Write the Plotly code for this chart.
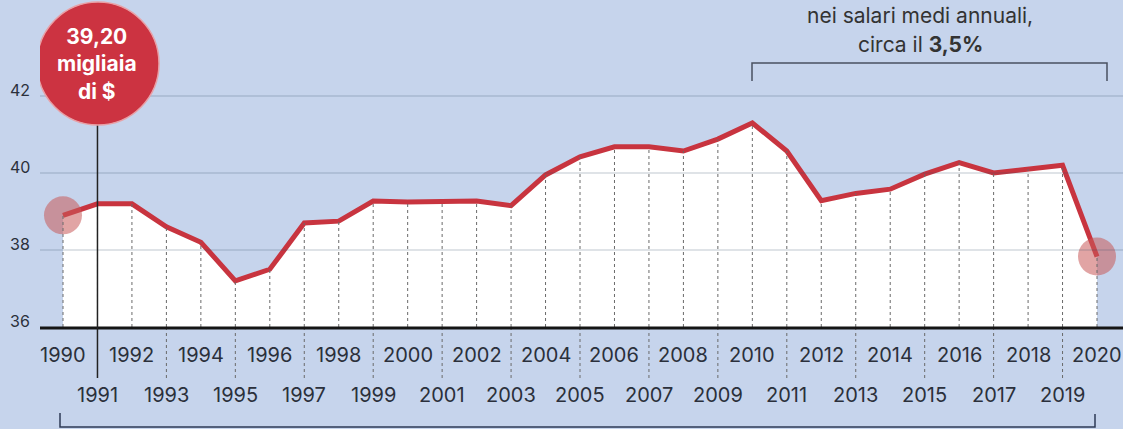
import plotly.graph_objects as go

years = list(range(1990, 2021))
wages = [38.9, 39.2, 39.2, 38.6, 38.2, 37.2, 37.5, 38.7, 38.75, 39.27, 39.25,
         39.27, 39.27, 39.15, 39.95, 40.42, 40.68, 40.68, 40.57, 40.88, 41.3,
         40.57, 39.28, 39.47, 39.58, 39.97, 40.27, 40.0, 40.1, 40.2, 37.83]
y_ticks = [36, 38, 40, 42]
bubble_lines = ["39,20", "migliaia", "di $"]
note_lines = ["nei salari medi annuali,", "circa il <b>3,5%</b>"]

W, H = 1123, 429
L, R, T, B = 40, 0, 0, 102
PW, PH = W - L - R, H - T - B
PX_YEAR = 34.467
X0_PX = 63
PX_UNIT = 38.5
XR = [1990 - (X0_PX - L) / PX_YEAR, 1990 + (W - X0_PX) / PX_YEAR]
YR = [36, 36 + PH / PX_UNIT]

def xd(px):
    return 1990 + (px - X0_PX) / PX_YEAR

def yd(px):
    return 36 + (T + PH - px) / PX_UNIT

def yp(px):
    return (T + PH - px) / PH

def xp(px):
    return (px - L) / PW

BG = "#c6d4ec"
RED = "#c8343f"
TXT = "#2b303b"
FONT = "Inter"

fig = go.Figure()
fig.add_trace(go.Scatter(x=years, y=wages, mode="lines", fill="tozeroy",
                         fillcolor="white", line=dict(color=RED, width=5),
                         hoverinfo="skip"))
fig.add_trace(go.Scatter(x=[years[0], years[-1]], y=[wages[0], wages[-1]],
                         mode="markers", cliponaxis=False,
                         marker=dict(size=38, color="rgba(200,90,90,0.55)",
                                     line=dict(width=0)),
                         hoverinfo="skip"))

shapes = []
for v in y_ticks[1:]:
    shapes.append(dict(type="line", xref="paper", yref="y", x0=0, x1=1, y0=v, y1=v,
                       line=dict(color="rgba(60,80,110,0.32)", width=1), layer="above"))
for yr, v in zip(years, wages):
    shapes.append(dict(type="line", xref="x", yref="y", x0=yr, x1=yr, y0=36, y1=v,
                       line=dict(color="#6a6a6a", width=1, dash="dot"), layer="above"))
for yr in years:
    if yr % 2 == 1 and yr != 1991:
        shapes.append(dict(type="line", xref="x", yref="paper", x0=yr, x1=yr,
                           y0=yp(378), y1=0,
                           line=dict(color="#6a6a6a", width=1, dash="dot")))
shapes.append(dict(type="line", xref="paper", yref="paper", x0=0, x1=1, y0=yp(328), y1=yp(328),
                   line=dict(color="#151515", width=3)))
shapes.append(dict(type="line", xref="x", yref="paper", x0=1991, x1=1991,
                   y0=yp(378), y1=yp(124), line=dict(color="#222222", width=1.5)))
shapes.append(dict(type="circle", xref="x", yref="y",
                   x0=xd(98 - 61), x1=xd(98 + 61), y0=yd(125), y1=yd(2),
                   fillcolor="#cc3341", line=dict(color="#e8a0a6", width=1.5)))
tb = [xd(752), xd(1107)]
shapes.append(dict(type="path", xref="x", yref="y",
                   path=f"M {tb[0]},{yd(81)} L {tb[0]},{yd(63)} L {tb[1]},{yd(63)} L {tb[1]},{yd(81)}",
                   line=dict(color="#4a5060", width=1.5)))
bb = [xd(60), xd(1095)]
shapes.append(dict(type="path", xref="x", yref="paper",
                   path=f"M {bb[0]},{yp(413)} L {bb[0]},{yp(427)} L {bb[1]},{yp(427)} L {bb[1]},{yp(414)}",
                   line=dict(color="#2e3a55", width=1.5)))

ann = []
for yr in years:
    ann.append(dict(x=yr, xref="x", y=yp(355 if yr % 2 == 0 else 395), yref="paper",
                    text=str(yr), showarrow=False, xanchor="center", yanchor="middle",
                    font=dict(family=FONT, size=20, color=TXT)))
for v in y_ticks:
    ann.append(dict(x=xp(20), xref="paper", y=(v - YR[0]) / (YR[1] - YR[0]), yref="paper",
                    yshift=6, text=str(v), showarrow=False, xanchor="center",
                    yanchor="middle", font=dict(family=FONT, size=16, color=TXT)))
ann.append(dict(x=1991, xref="x", y=yd(64), yref="y",
                text="<b>" + "<br>".join(bubble_lines) + "</b>",
                showarrow=False, xanchor="center", yanchor="middle",
                font=dict(family=FONT, size=21, color="white"), align="center"))
ann.append(dict(x=xd(920), xref="x", y=yd(15), yref="y", text=note_lines[0],
                showarrow=False, xanchor="center", yanchor="middle",
                font=dict(family=FONT, size=21, color="#333333")))
ann.append(dict(x=xd(920), xref="x", y=yd(44), yref="y", text=note_lines[1],
                showarrow=False, xanchor="center", yanchor="middle",
                font=dict(family=FONT, size=21, color="#333333")))

fig.update_layout(
    width=W, height=H, margin=dict(l=L, r=R, t=T, b=B),
    paper_bgcolor=BG, plot_bgcolor=BG, showlegend=False,
    xaxis=dict(range=XR, showgrid=False, zeroline=False, showticklabels=False,
               showline=False, fixedrange=True),
    yaxis=dict(range=YR, showgrid=False, zeroline=False, showticklabels=False,
               showline=False, fixedrange=True),
    shapes=shapes, annotations=ann,
)
fig.write_html("out.html", config={"displayModeBar": False},
               post_script="document.body.style.margin='0';document.body.style.overflow='hidden';")
